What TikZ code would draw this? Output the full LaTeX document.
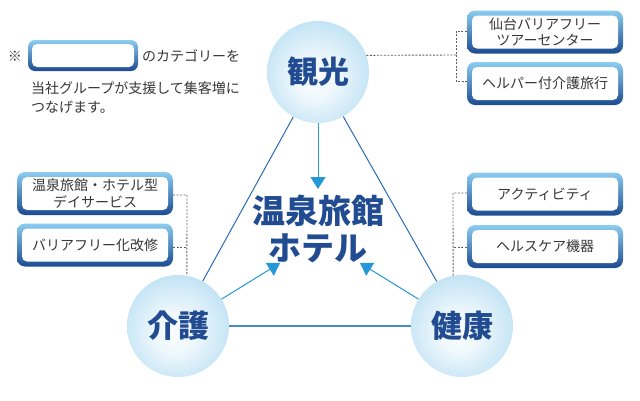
\documentclass[tikz,border=0pt]{standalone}
\usepackage{fontspec}
\setmainfont{Noto Sans CJK JP}
\usetikzlibrary{arrows.meta}
\definecolor{ballblue}{RGB}{118,193,232}
\definecolor{navy}{RGB}{34,76,146}
\definecolor{sideblue}{RGB}{40,108,184}
\definecolor{baseblue}{RGB}{70,140,205}
\definecolor{arrblue}{RGB}{36,152,216}
\definecolor{boxtop}{RGB}{140,205,240}
\definecolor{boxbot}{RGB}{28,74,145}
\definecolor{txtgray}{RGB}{55,55,55}
\definecolor{dashgray}{RGB}{95,95,95}
\pgfdeclareradialshading{ballshade}{\pgfpoint{-2bp}{-4bp}}{%
 color(0bp)=(white!96!ballblue); color(10bp)=(white!88!ballblue);
 color(25bp)=(white!60!ballblue); color(38bp)=(white!28!ballblue);
 color(50bp)=(ballblue)}
\tikzset{
 ball/.style={circle, minimum size=102pt, inner sep=0pt, shading=ballshade,
   text=navy, font=\fontsize{31}{31}\selectfont\bfseries},
 gouter/.style={rounded corners=8pt, top color=boxtop, bottom color=boxbot,
   minimum width=156pt, minimum height=43pt, inner sep=0pt},
 ginner/.style={rounded corners=5pt, fill=white, minimum width=146pt,
   minimum height=33pt, inner sep=0pt, align=center, text=txtgray,
   font=\fontsize{14}{16.5}\selectfont},
 side/.style={draw=sideblue, line width=1pt},
 baseline/.style={draw=baseblue, line width=1.2pt},
 arr/.style={draw=arrblue, line width=1pt, -{Triangle[length=12pt,width=15pt]}},
 dashc/.style={draw=dashgray, line width=0.9pt, dash pattern=on 2pt off 1.5pt},
 note/.style={text=txtgray, font=\fontsize{14}{16}\selectfont, inner sep=0pt}
}
\begin{document}
\begin{tikzpicture}[x=1pt,y=-1pt]
\useasboundingbox (0,0) rectangle (640,400);
% circles
\node[ball] (kanko) at (318,72) {観光};
\node[ball] (kaigo) at (178,326) {介護};
\node[ball] (kenko) at (462,326) {健康};
% center text
\node[text=navy, align=center, font=\fontsize{33}{37}\selectfont\bfseries] (onsen) at (318,229) {温泉旅館\\ホテル};
% triangle
\draw[side] (kanko) -- (kaigo);
\draw[side] (kanko) -- (kenko);
\draw[baseline] (kaigo) -- (kenko);
% arrows
\coordinate (tipT) at (318,189);
\coordinate (tipL) at (280,263);
\coordinate (tipR) at (360,263);
\draw[arr] (kanko) -- (tipT);
\draw[arr] (kaigo) -- (tipL);
\draw[arr] (kenko) -- (tipR);
% top right boxes
\node[gouter] (tr1o) at (545,32) {};
\node[ginner] (tr1) at (tr1o) {仙台バリアフリー\\ツアーセンター};
\node[gouter] (tr2o) at (545,83.5) {};
\node[ginner] (tr2) at (tr2o) {ヘルパー付介護旅行};
% left boxes
\node[gouter] (l1o) at (95,193.5) {};
\node[ginner] (l1) at (l1o) {温泉旅館・ホテル型\\デイサービス};
\node[gouter] (l2o) at (95,245) {};
\node[ginner] (l2) at (l2o) {バリアフリー化改修};
% right boxes
\node[gouter] (r1o) at (545,194) {};
\node[ginner] (r1) at (r1o) {アクティビティ};
\node[gouter] (r2o) at (545,246.5) {};
\node[ginner] (r2) at (r2o) {ヘルスケア機器};
% dashed connectors
\coordinate (tj) at (456,55);
\coordinate (tjt) at (456,31);
\coordinate (tjb) at (456,81);
\draw[dashc] (kanko.19.5) -- (tj);
\draw[dashc] (tr1o.west |- tjt) -- (tjt) -- (tjb) -- (tr2o.west |- tjb);
\coordinate (lj) at (187,195);
\coordinate (lj2) at (187,247);
\draw[dashc] (l1o.east |- lj) -- (lj) -- (kaigo.80);
\draw[dashc] (l2o.east |- lj2) -- (lj2);
\coordinate (rj) at (453,193);
\coordinate (rj2) at (453,247);
\draw[dashc] (r1o.west |- rj) -- (rj) -- (kenko.100);
\draw[dashc] (r2o.west |- rj2) -- (rj2);
% legend
\node[note, anchor=center] (kome) at (15,56) {※};
\node[gouter, minimum width=110pt, minimum height=31pt, rounded corners=7pt] (lego) at (83,55.5) {};
\node[ginner, minimum width=102pt, minimum height=23pt, rounded corners=5pt] (leg) at (lego) {};
\node[note, anchor=west] (n1) at (142,56) {のカテゴリーを};
\node[note, anchor=west] (n2) at (31,88) {当社グループが支援して集客増に};
\node[note, anchor=west] (n3) at (31,107) {つなげます。};
\end{tikzpicture}
\end{document}
